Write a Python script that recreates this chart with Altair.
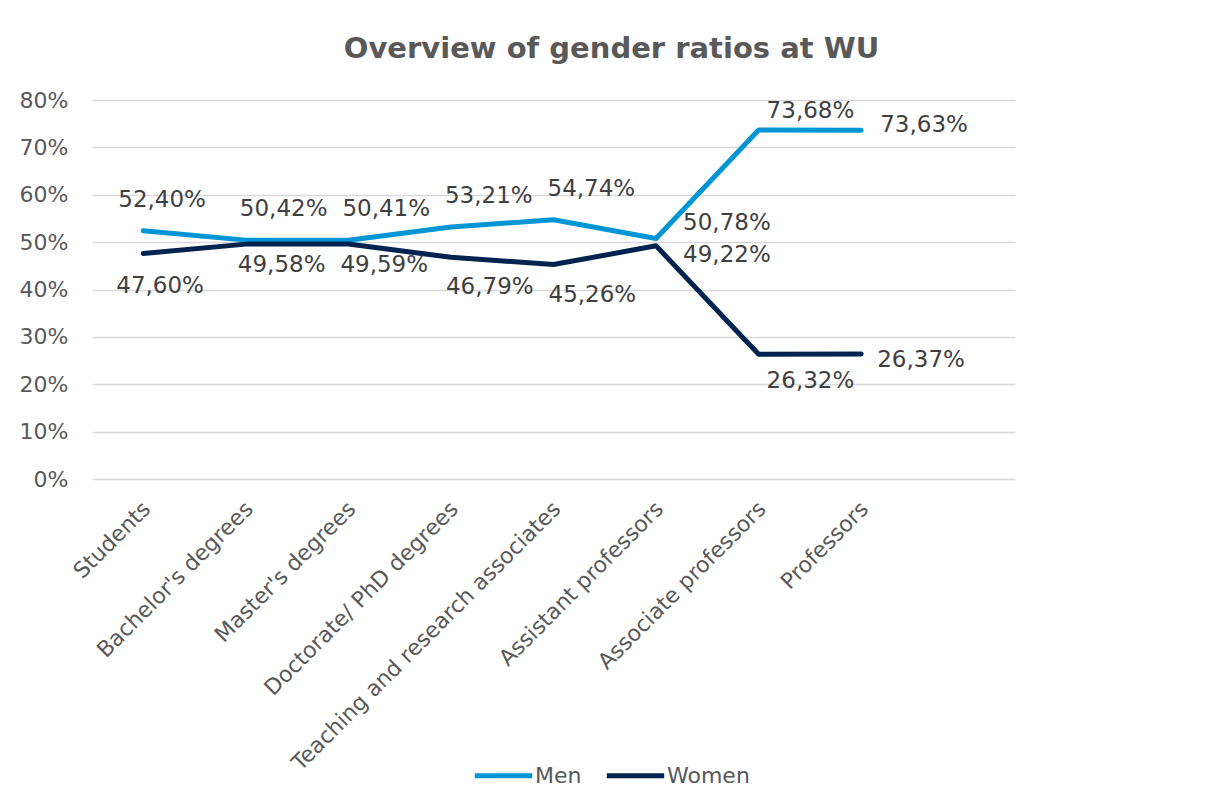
import json
import altair as alt
import pandas as pd

categories = ["Students", "Bachelor's degrees", "Master's degrees", "Doctorate/ PhD degrees",
              "Teaching and research associates", "Assistant professors",
              "Associate professors", "Professors"]
men = [52.40, 50.42, 50.41, 53.21, 54.74, 50.78, 73.68, 73.63]
women = [47.60, 49.58, 49.59, 46.79, 45.26, 49.22, 26.32, 26.37]
series = ["Men", "Women"]
colors = ["#0096D6", "#00234F"]
y_ticks = [0, 10, 20, 30, 40, 50, 60, 70, 80]

rows = []
for c, m, w in zip(categories, men, women):
    rows.append({"cat": c, "series": "Men", "v": m})
    rows.append({"cat": c, "series": "Women", "v": w})
df = pd.DataFrame(rows)

FONT = "DejaVu Sans"
GRAY = "#595959"

x_enc = alt.X("cat:N", sort=categories,
              scale=alt.Scale(type="point", padding=1, align=0.25, domain=categories),
              axis=alt.Axis(title=None, labelAngle=-45, labelAlign="right", labelBaseline="middle",
                            labelFontSize=22, labelFont=FONT, labelColor=GRAY, labelLimit=0,
                            ticks=False, domain=False, labelPadding=26, labelOffset=3,
                            grid=False))
y_enc = alt.Y("v:Q", scale=alt.Scale(domain=[0, 80], nice=False),
              axis=alt.Axis(title=None, values=y_ticks, labelExpr="datum.value + '%'",
                            labelFontSize=22, labelFont=FONT, labelColor=GRAY,
                            ticks=False, domain=False, labelPadding=24,
                            grid=True, gridColor="#D9D9D9", gridWidth=1.5))

base = alt.Chart(df)

lines = base.mark_line(strokeWidth=5, strokeCap="round", strokeJoin="round").encode(
    x=x_enc, y=y_enc,
    color=alt.Color("series:N", scale=alt.Scale(domain=series, range=colors),
                    legend=alt.Legend(title=None, orient="none", direction="horizontal",
                                      legendX=380, legendY=644,
                                      symbolType="stroke", symbolSize=3300, symbolStrokeWidth=5,
                                      labelFontSize=22, labelFont=FONT, labelColor=GRAY,
                                      labelOffset=0, columnPadding=14)),
)

label_expr = "replace(format(datum.v, '.2f'), '.', ',') + '%'"

def labels(ser, cats, dx, dy):
    expr = "datum.series === %s && indexof(%s, datum.cat) >= 0" % (json.dumps(ser), json.dumps(cats))
    return base.transform_filter(expr).transform_calculate(lab=label_expr).mark_text(
        align="left", baseline="middle", dx=dx, dy=dy, fontSize=23, font=FONT, color="#404040"
    ).encode(x=alt.X("cat:N", sort=categories), y="v:Q", text="lab:N")

text_layers = [
    labels("Men", ["Students"], -25, -31),
    labels("Men", ["Bachelor's degrees", "Master's degrees", "Doctorate/ PhD degrees",
                   "Teaching and research associates"], -6, -31),
    labels("Men", ["Assistant professors"], 27, -15),
    labels("Men", ["Associate professors"], 8, -19),
    labels("Men", ["Professors"], 19, -5),
    labels("Women", ["Students"], -27, 33),
    labels("Women", ["Bachelor's degrees", "Master's degrees"], -8, 21),
    labels("Women", ["Doctorate/ PhD degrees", "Teaching and research associates"], -5, 30),
    labels("Women", ["Assistant professors"], 27, 9),
    labels("Women", ["Associate professors"], 8, 27),
    labels("Women", ["Professors"], 16, 6),
]

chart = alt.layer(lines, *text_layers).properties(
    width=923, height=379,
    padding={"left": 11, "top": 27, "right": 10, "bottom": 10},
    title=alt.TitleParams("Overview of gender ratios at WU", font="DejaVu Sans",
                          fontSize=29, fontWeight="bold", color=GRAY, anchor="middle",
                          offset=25, dx=58),
).configure_view(stroke=None)

chart.save("out.html", embed_options={"renderer": "svg", "actions": False})
